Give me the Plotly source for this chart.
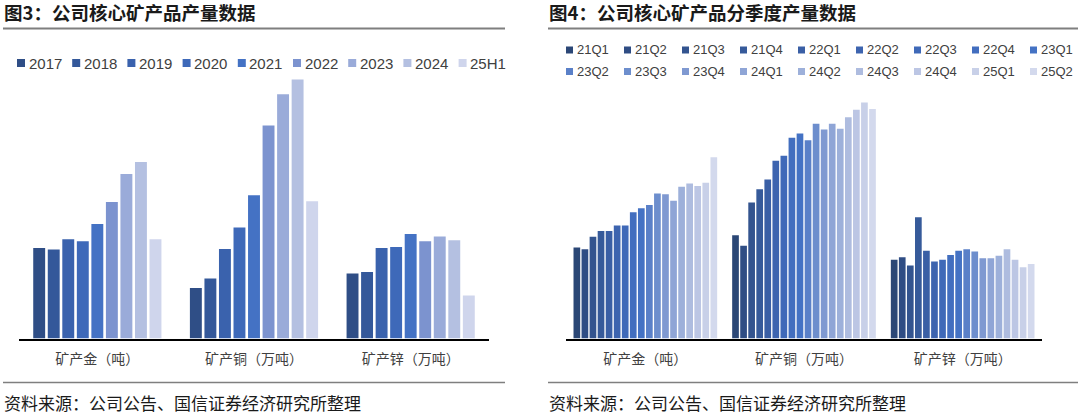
import plotly.graph_objects as go

W, H = 1080, 414

# ---------------- data ----------------
categories = ["矿产金（吨）", "矿产铜（万吨）", "矿产锌（万吨）"]

annual_series = ["2017", "2018", "2019", "2020", "2021", "2022", "2023", "2024", "25H1"]
annual_gold = [37.4, 36.8, 41.0, 40.2, 47.3, 56.4, 67.9, 72.9, 41.0]
annual_copper = [20.9, 24.8, 37.0, 45.8, 59.2, 88.0, 100.9, 107.0, 56.7]
annual_zinc = [26.8, 27.5, 37.4, 37.8, 43.2, 40.2, 42.1, 40.6, 17.8]

quarter_series = ["21Q1", "21Q2", "21Q3", "21Q4", "22Q1", "22Q2", "22Q3", "22Q4", "23Q1",
                  "23Q2", "23Q3", "23Q4", "24Q1", "24Q2", "24Q3", "24Q4", "25Q1", "25Q2"]
q_gold = [11.1, 10.9, 12.4, 13.1, 13.1, 13.8, 13.8, 15.4, 15.9,
          16.3, 17.7, 17.6, 16.8, 18.5, 18.9, 18.6, 19.0, 22.1]
q_copper = [12.6, 11.3, 16.6, 18.2, 19.4, 21.7, 22.3, 24.5, 25.0,
            24.2, 26.2, 25.5, 26.2, 25.6, 27.0, 27.9, 28.8, 28.0]
q_zinc = [9.6, 9.9, 8.9, 14.8, 10.7, 9.4, 9.6, 10.2, 10.7,
          10.9, 10.6, 9.8, 9.8, 10.1, 10.9, 9.6, 8.7, 9.1]

left_title = "图3：公司核心矿产品产量数据"
right_title = "图4：公司核心矿产品分季度产量数据"
source_text = "资料来源：公司公告、国信证券经济研究所整理"

# ---------------- styles ----------------
annual_colors = ["#2F4E86", "#34589A", "#3A62AD", "#3E69B9", "#4472C4",
                 "#7C93CF", "#9AABD9", "#B4C0E1", "#CFD5EC"]
quarter_colors = ["#2B4776", "#2F4D84", "#33548F", "#365A9A", "#3A5FA5", "#3D64AF",
                  "#3F69B8", "#426EBF", "#4472C4", "#5A80C8", "#6D8ECD", "#7F99D1",
                  "#8FA5D6", "#9DB0DA", "#AEBCDF", "#BCC6E4", "#C8D0E8", "#D3D9ED"]

FONT = "Liberation Sans, Arial, Noto Sans CJK SC, sans-serif"
CJK = "Noto Sans CJK SC, Liberation Sans, sans-serif"

def px_x(v):
    return v / W

def px_y(v):
    return 1 - v / H

baseline = 338.5
left_scale = 0.413    # units per pixel
right_scale = 0.122
left_max = 120
right_max = 35

fig = go.Figure()

# left chart: explicit group geometry (different gap than right chart)
left_bargap = 0.165
left_groupgap = 0.18
n_a = len(annual_series)
slot = (1 - left_bargap) / n_a
for i, name in enumerate(annual_series):
    fig.add_trace(go.Bar(
        x=categories,
        y=[annual_gold[i], annual_copper[i], annual_zinc[i]],
        name=name, marker_color=annual_colors[i], marker_line_width=0,
        offset=-(1 - left_bargap) / 2 + i * slot + slot * left_groupgap / 2,
        width=slot * (1 - left_groupgap),
        xaxis="x", yaxis="y", showlegend=False, hoverinfo="x+y+name",
    ))

for i, name in enumerate(quarter_series):
    fig.add_trace(go.Bar(
        x=categories,
        y=[q_gold[i], q_copper[i], q_zinc[i]],
        name=name, marker_color=quarter_colors[i], marker_line_width=0,
        xaxis="x2", yaxis="y2", showlegend=False, hoverinfo="x+y+name",
    ))

y0 = (H - baseline) / H
left_top = y0 + (left_max / left_scale) / H
right_top = y0 + (right_max / right_scale) / H

xaxis_common = dict(showline=True, linecolor="#000000", linewidth=1.5, ticks="",
                    showgrid=False, zeroline=False, fixedrange=True,
                    tickfont=dict(family=CJK, size=14, color="#404040"),
                    ticklabelstandoff=7)
yaxis_common = dict(visible=False, showgrid=False, zeroline=False, fixedrange=True)

shapes = []
annotations = []

# title and frame lines
for (x0, x1, title) in [(3, 505, left_title), (548, 1078, right_title)]:
    annotations.append(dict(text="<b>" + title + "</b>", x=px_x(x0 - 1), y=px_y(12),
                            xref="paper", yref="paper", xanchor="left", yanchor="middle",
                            showarrow=False, font=dict(family=CJK, size=18.5, color="#1A1A1A")))
    annotations.append(dict(text=source_text, x=px_x(x0 - 1), y=px_y(402),
                            xref="paper", yref="paper", xanchor="left", yanchor="middle",
                            showarrow=False, font=dict(family=CJK, size=17, color="#1A1A1A")))
    shapes.append(dict(type="line", xref="paper", yref="paper", x0=px_x(x0), x1=px_x(x1),
                       y0=px_y(28.5), y1=px_y(28.5), line=dict(color="#7F7F7F", width=2)))
    shapes.append(dict(type="line", xref="paper", yref="paper", x0=px_x(x0), x1=px_x(x1),
                       y0=px_y(382.5), y1=px_y(382.5), line=dict(color="#7F7F7F", width=1.5)))

# legends drawn as shapes + text
def legend_item(name, color, x, y, size, fsize):
    shapes.append(dict(type="rect", xref="paper", yref="paper",
                       x0=px_x(x), x1=px_x(x + size),
                       y0=px_y(y + size / 2), y1=px_y(y - size / 2),
                       fillcolor=color, line=dict(width=0)))
    annotations.append(dict(text=name, x=px_x(x + size + 1.5), y=px_y(y), xref="paper", yref="paper",
                            xanchor="left", yanchor="middle", showarrow=False,
                            font=dict(family=FONT, size=fsize, color="#404040")))

for i, name in enumerate(annual_series):
    legend_item(name, annual_colors[i], 17 + i * 55.2, 63, 8, 15)

for i, name in enumerate(quarter_series):
    row, col = divmod(i, 9)
    legend_item(name, quarter_colors[i], 566 + col * 58.0, 50 + row * 21.5, 7, 13)

fig.update_layout(
    width=W, height=H,
    margin=dict(l=0, r=0, t=0, b=0),
    paper_bgcolor="white", plot_bgcolor="white",
    barmode="group", bargap=0.086, bargroupgap=0.17,
    showlegend=False,
    xaxis=dict(domain=[px_x(19), px_x(489)], anchor="y", **xaxis_common),
    yaxis=dict(domain=[y0, left_top], range=[0, left_max], anchor="x", **yaxis_common),
    xaxis2=dict(domain=[px_x(566), px_x(1042)], anchor="y2", **xaxis_common),
    yaxis2=dict(domain=[y0, right_top], range=[0, right_max], anchor="x2", **yaxis_common),
    shapes=shapes,
    annotations=annotations,
    font=dict(family=FONT),
)

fig.write_html("out.html", config={"displayModeBar": False},
               post_script="document.body.style.margin='0';document.body.style.padding='0';document.body.style.overflow='hidden';")
